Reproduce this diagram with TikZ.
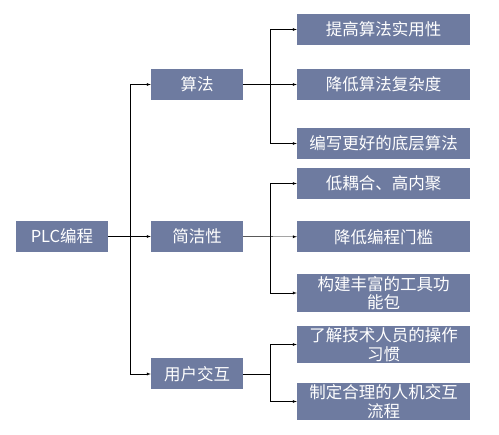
\documentclass[tikz,border=0pt]{standalone}
\usepackage{fontspec}
\usepackage{tikz}
\usetikzlibrary{arrows}
\newfontfamily\cjk{Noto Sans CJK SC}
\definecolor{boxblue}{RGB}{110,123,160}
\newcommand\bx{\cjk\fontsize{16.5}{18.5}\selectfont}

\begin{document}
\begin{tikzpicture}[x=1pt, y=-1pt, box/.style={fill=boxblue, text=white, inner sep=0pt, minimum height=31pt, align=center, font=\bx}, mid/.style={box, minimum width=92pt}, leaf/.style={box, minimum width=173pt}, >=latex]
\useasboundingbox (0,0) rectangle (499,435);
\node[mid](plc) at (62,236.5){PLC编程};
\node[mid](suanfa) at (197,84.5){算法};
\node[mid](jianjie) at (197,236.5){简洁性};
\node[mid](yonghu) at (197,374){用户交互};
\node[leaf](tigao) at (383.5,29.5){提高算法实用性};
\node[leaf](fuza) at (383.5,84.5){降低算法复杂度};
\node[leaf](bianxie) at (383.5,143.5){编写更好的底层算法};
\node[leaf](ouhe) at (383.5,183.5){低耦合、高内聚};
\node[leaf](menkan) at (383.5,237){降低编程门槛};
\node[leaf, minimum height=38pt](gongju) at (383.5,293){构建丰富的工具功\\能包};
\node[leaf, minimum height=37pt](xiguan) at (383.5,344.5){了解技术人员的操作\\习惯};
\node[leaf, minimum height=37pt](liucheng) at (383.5,401.5){制定合理的人机交互\\流程};
\coordinate (t) at (130,236.5);
\coordinate (b1) at (270,84.5);
\coordinate (b2) at (270,236.5);
\coordinate (b3) at (270,374);
\draw [->](plc) -- (jianjie);
\draw [->](t) |- (suanfa);
\draw [->](t) |- (yonghu);
\draw [->](suanfa) -- (fuza);
\draw [->](b1) |- (tigao);
\draw [->](b1) |- (bianxie);
\draw [->](jianjie) -- (menkan);
\draw [->](b2) |- (ouhe);
\draw [->](b2) |- (gongju);
\draw (yonghu) -- (b3);
\draw [->](b3) |- (xiguan);
\draw [->](b3) |- (liucheng);
\end{tikzpicture}
\end{document}
